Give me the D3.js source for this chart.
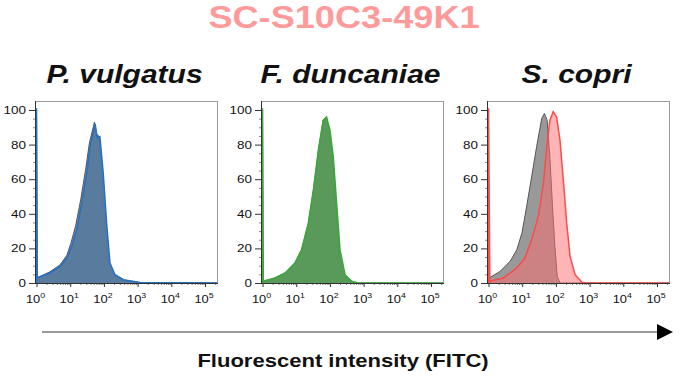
<!DOCTYPE html>
<html>
<head>
<meta charset="utf-8">
<script src="https://cdn.jsdelivr.net/npm/d3@7"></script>
<style>
  html, body { margin: 0; padding: 0; background: #fff; }
  svg { display: block; }
  text { font-family: "Liberation Sans", Arial, Helvetica, sans-serif; }
</style>
</head>
<body>
<svg id="chart" width="680" height="377"></svg>
<script>
// ---------------- DATA ----------------
const mainTitle = "SC-S10C3-49K1";
const axisLabel = "Fluorescent intensity (FITC)";
const speciesNames = ["P. vulgatus", "F. duncaniae", "S. copri"];
const xTickExponents = [0, 1, 2, 3, 4, 5];
const yTickValues = [0, 20, 40, 60, 80, 100];

// Each histogram: [log10(FITC intensity), % of max]
const pvControl = [[0.0,0],[0.0,100],[0.02,3],[0.40,6.5],[0.70,10.5],[0.90,16],[1.02,23],[1.16,33],[1.31,48],[1.46,66],[1.57,81],[1.72,93],[1.78,86],[1.85,85],[1.94,62],[2.04,33],[2.14,11],[2.28,4.5],[2.55,1.8],[3.05,0.3],[5.38,0]];
const pvSample  = [[0.0,0],[0.0,101],[0.02,3],[0.40,5.8],[0.70,9.6],[0.90,14.4],[1.04,21],[1.19,30.8],[1.34,46],[1.49,63.5],[1.59,79],[1.74,92],[1.80,84],[1.88,84.6],[1.98,63.5],[2.08,34.6],[2.18,11.5],[2.33,4.8],[2.58,1.9],[3.07,0.3],[5.38,0]];
const fdControl = [[0.0,0],[0.0,100],[0.02,1],[0.37,2.9],[0.67,5.8],[0.96,11.5],[1.16,19.2],[1.36,34.6],[1.51,53.8],[1.66,76.9],[1.80,94],[1.89,96],[1.99,88],[2.08,72],[2.17,46],[2.26,19],[2.40,4.5],[2.60,1],[2.80,0],[5.38,0]];
const fdSample  = [[0.0,0],[0.0,101],[0.02,1],[0.37,2.9],[0.67,5.8],[0.96,11.5],[1.16,19.2],[1.36,34.6],[1.51,53.8],[1.66,76.9],[1.80,94],[1.90,96],[2.00,88.5],[2.10,73],[2.20,46],[2.30,19.2],[2.45,4.8],[2.65,1],[2.84,0],[5.38,0]];
const scControl = [[0.02,0],[0.02,2.9],[0.34,6.7],[0.64,12.5],[0.84,19.2],[0.99,28.8],[1.13,44],[1.28,61.5],[1.43,79],[1.58,95.2],[1.66,98],[1.74,94],[1.82,73],[1.90,44],[1.97,21],[2.04,3.8],[2.12,0],[5.38,0]];
const scSample  = [[0.0,0],[0.0,101],[0.04,1],[0.44,2.9],[0.84,8.7],[1.08,14.4],[1.28,25],[1.48,38.5],[1.63,57.7],[1.73,79],[1.82,94],[1.92,99],[2.02,96],[2.12,82.7],[2.22,59.6],[2.32,34.6],[2.42,15.4],[2.57,4.8],[2.77,0.4],[2.90,0],[5.38,0]];

const panels = [
  { name: speciesNames[0], control: pvControl, sample: pvSample, fill: "#54799f", stroke: "#2470c4", op: 0.92, ctl: "#8f8f8f" },
  { name: speciesNames[1], control: fdControl, sample: fdSample, fill: "#559a55", stroke: "#3aa83a", op: 0.93, ctl: "#8f8f8f" },
  { name: speciesNames[2], control: scControl, sample: scSample, fill: "#ff6b6b", stroke: "#ff4a4a", op: 0.5, ctl: "#999999" }
];

// ---------------- LAYOUT ----------------
const svg = d3.select("#chart");
const W = 183, H = 182, top0 = 101;
const lefts = [35, 261, 487];
const SX = 1.17; // horizontal text stretch seen in the reference

const x = d3.scaleLog().domain([Math.pow(10, -0.045), Math.pow(10, 5.386)]).range([0, W]);
const y = d3.scaleLinear().domain([0, 105.2]).range([H, 0]);

function stretchedText(g, tx, ty, str, opts) {
  return g.append("text")
    .attr("transform", `translate(${tx},${ty}) scale(${opts.sx || SX},1)`)
    .attr("text-anchor", opts.anchor || "middle")
    .attr("font-size", opts.size)
    .attr("font-weight", opts.weight || "normal")
    .attr("font-style", opts.style || "normal")
    .attr("fill", opts.fill || "#111")
    .text(str);
}

// main title
stretchedText(svg, 344, 28, mainTitle, { size: 32, weight: "bold", fill: "#ff9a9a", sx: 1.13 });

const area = d3.area()
  .x(d => x(Math.pow(10, d[0])))
  .y0(y(0))
  .y1(d => y(d[1]));
const line = d3.line()
  .x(d => x(Math.pow(10, d[0])))
  .y(d => y(d[1]));

panels.forEach((p, i) => {
  const g = svg.append("g").attr("transform", `translate(${lefts[i]},${top0})`);

  // species title
  stretchedText(g, W / 2 - 2, -18, p.name, { size: 25, weight: "bold", style: "italic", sx: 1.2 });

  const clip = "clip" + i;
  g.append("clipPath").attr("id", clip).append("rect").attr("x", 0).attr("y", 0).attr("width", W).attr("height", H);
  const pg = g.append("g").attr("clip-path", `url(#${clip})`);

  // control (gray)
  pg.append("path").datum(p.control).attr("d", area).attr("fill", p.ctl);
  pg.append("path").datum(p.control).attr("d", line).attr("fill", "none").attr("stroke", "#555").attr("stroke-width", 1);
  // sample
  pg.append("path").datum(p.sample).attr("d", area).attr("fill", p.fill).attr("fill-opacity", p.op);
  pg.append("path").datum(p.sample).attr("d", line).attr("fill", "none").attr("stroke", p.stroke).attr("stroke-width", 1.5);

  // frame
  g.append("line").attr("x1", 0).attr("x2", W).attr("y1", 0.5).attr("y2", 0.5).attr("stroke", "#9a9a9a");
  g.append("line").attr("x1", W - 0.5).attr("x2", W - 0.5).attr("y1", 0).attr("y2", H).attr("stroke", "#9a9a9a");

  // x axis
  const xMinor = [];
  for (let e = 0; e < 6; e++) for (let m = 2; m <= 9; m++) {
    const v = m * Math.pow(10, e);
    if (x(v) <= W) xMinor.push(v);
  }
  const gxm = g.append("g").attr("transform", `translate(0,${H})`)
    .call(d3.axisBottom(x).tickValues(xMinor).tickSize(2).tickFormat(""));
  gxm.select(".domain").remove();
  gxm.selectAll("line").attr("stroke", "#777");
  const gx = g.append("g").attr("transform", `translate(0,${H})`)
    .call(d3.axisBottom(x).tickValues(xTickExponents.map(e => Math.pow(10, e))).tickSize(4).tickFormat(""));
  gx.select(".domain").attr("stroke", "#333").attr("d", `M0,0.5H${W}`);
  gx.selectAll("line").attr("stroke", "#333");
  xTickExponents.forEach(e => {
    const t = g.append("text")
      .attr("transform", `translate(${x(Math.pow(10, e)) - 1},${H + 20}) scale(${SX},1)`)
      .attr("text-anchor", "middle")
      .attr("font-size", 11)
      .attr("fill", "#111");
    t.append("tspan").text("10");
    t.append("tspan").attr("font-size", 7.5).attr("dy", -5).text(e);
  });

  // y axis
  const yMinor = d3.range(0, 101, 5).filter(v => v % 20 !== 0);
  const gym = g.append("g").call(d3.axisLeft(y).tickValues(yMinor).tickSize(2).tickFormat(""));
  gym.select(".domain").remove();
  gym.selectAll("line").attr("stroke", "#888");
  const gy = g.append("g").call(d3.axisLeft(y).tickValues(yTickValues).tickSize(6).tickFormat(""));
  gy.select(".domain").attr("stroke", "#333").attr("d", `M0.5,0V${H}`);
  gy.selectAll("line").attr("stroke", "#333");
  yTickValues.forEach(v => {
    stretchedText(g, -9, y(v) + 4, String(v), { size: 11.5, anchor: "end" });
  });
});

// bottom arrow
svg.append("defs").append("marker")
  .attr("id", "arrowhead").attr("viewBox", "0 0 16 16").attr("refX", 0).attr("refY", 8)
  .attr("markerWidth", 16).attr("markerHeight", 16).attr("markerUnits", "userSpaceOnUse")
  .attr("orient", "auto")
  .append("path").attr("d", "M0,0L16,8L0,16Z").attr("fill", "#000");
svg.append("line").attr("x1", 42).attr("x2", 657).attr("y1", 332).attr("y2", 332)
  .attr("stroke", "#777").attr("stroke-width", 1.6).attr("marker-end", "url(#arrowhead)");

stretchedText(svg, 343, 367, axisLabel, { size: 19, weight: "bold", sx: 1.16 });
</script>
</body>
</html>
